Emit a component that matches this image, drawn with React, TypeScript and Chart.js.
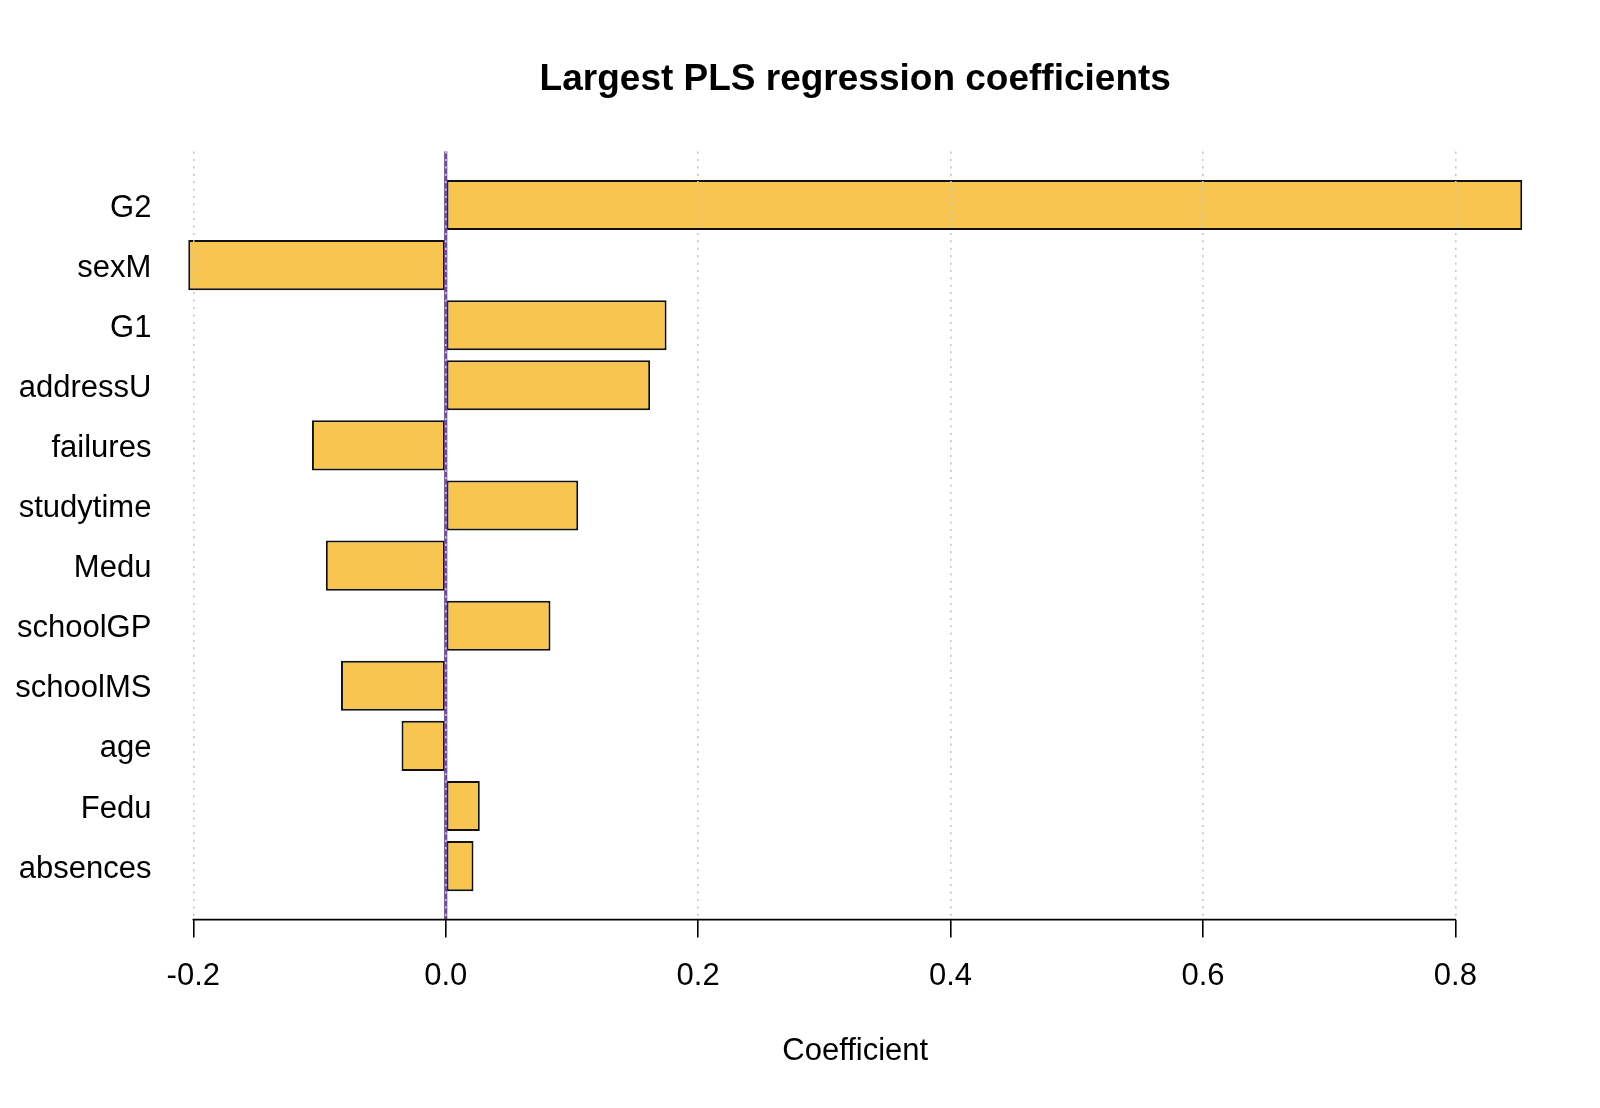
import React, { useEffect, useRef } from 'react';
import { Chart, registerables } from 'chart.js';

Chart.register(...registerables);

const categories = ['G2', 'sexM', 'G1', 'addressU', 'failures', 'studytime', 'Medu', 'schoolGP', 'schoolMS', 'age', 'Fedu', 'absences'];
const coefficients = [0.853, -0.204, 0.175, 0.162, -0.106, 0.105, -0.095, 0.083, -0.083, -0.035, 0.027, 0.022];
const xTicks = [-0.2, 0, 0.2, 0.4, 0.6, 0.8];
const xTickLabels = ['-0.2', '0.0', '0.2', '0.4', '0.6', '0.8'];
const titleText = 'Largest PLS regression coefficients';
const xTitle = 'Coefficient';

const FAMILY = "'Liberation Sans', Arial, Helvetica, sans-serif";

export default function App() {
  const ref = useRef<HTMLCanvasElement>(null);

  useEffect(() => {
    const canvas = ref.current;
    if (!canvas) return;

    const dMin = Math.min(0, ...coefficients);
    const dMax = Math.max(0, ...coefficients);
    const span = dMax - dMin;
    const xMin = dMin - 0.04 * span;
    const xMax = dMax + 0.04 * span;
    const yPad = 0.89;

    const zeroLine = {
      id: 'zeroLine',
      afterDatasetsDraw(chart: any) {
        const { ctx, chartArea } = chart;
        const x0 = chart.scales.x.getPixelForValue(0);
        ctx.save();
        ctx.strokeStyle = '#6E4E92';
        ctx.lineWidth = 3.2;
        ctx.beginPath();
        ctx.moveTo(x0, chartArea.top);
        ctx.lineTo(x0, chartArea.bottom);
        ctx.stroke();
        ctx.restore();
      },
    };

    const axisAndLabels = {
      id: 'axisAndLabels',
      afterDraw(chart: any) {
        const { ctx, chartArea } = chart;
        const xs = chart.scales.x;
        const ys = chart.scales.y;
        const a = xs.getPixelForValue(xTicks[0]);
        const b = xs.getPixelForValue(xTicks[xTicks.length - 1]);
        ctx.save();
        ctx.strokeStyle = '#000';
        ctx.lineWidth = 1.6;
        ctx.beginPath();
        ctx.moveTo(a - 0.8, chartArea.bottom);
        ctx.lineTo(b + 0.8, chartArea.bottom);
        ctx.stroke();

        ctx.fillStyle = '#000';
        ctx.font = `31px ${FAMILY}`;
        ctx.textAlign = 'right';
        ctx.textBaseline = 'middle';
        categories.forEach((name, i) => {
          ctx.fillText(name, chartArea.left + 16.5, ys.getPixelForValue(i) + 3);
        });
        ctx.restore();
      },
    };

    const chart = new Chart(canvas, {
      type: 'bar',
      data: {
        datasets: [
          {
            data: coefficients.map((v, i) => ({ x: v, y: i })),
            backgroundColor: '#F8C650',
            borderColor: '#111111',
            borderWidth: 2,
            borderSkipped: false,
            barPercentage: 1 / 1.2,
            categoryPercentage: 1,
          } as any,
        ],
      },
      options: {
        indexAxis: 'y',
        animation: false,
        responsive: false,
        devicePixelRatio: 1,
        layout: { padding: { left: 0, right: 24.4, top: 0, bottom: 0 } },
        plugins: {
          legend: { display: false },
          tooltip: { enabled: false },
          title: {
            display: true,
            text: titleText,
            fullSize: false,
            color: '#000',
            font: { family: FAMILY, size: 37, weight: 'bold' },
            padding: { top: 57.5, bottom: 49.6 },
          },
        },
        scales: {
          x: {
            type: 'linear',
            position: 'bottom',
            min: xMin,
            max: xMax,
            afterBuildTicks: (s: any) => {
              s.ticks = xTicks.map((v) => ({ value: v }));
            },
            afterFit: (s: any) => {
              s.height = 188.4;
            },
            ticks: {
              autoSkip: false,
              maxRotation: 0,
              padding: 20,
              color: '#000',
              font: { family: FAMILY, size: 31 },
              callback: (v: any) => {
                const i = xTicks.findIndex((t) => Math.abs(t - Number(v)) < 1e-9);
                return i >= 0 ? xTickLabels[i] : '';
              },
            },
            grid: {
              display: true,
              drawOnChartArea: true,
              drawTicks: true,
              tickLength: 18,
              color: '#c8c8c8',
              lineWidth: 1.6,
              tickColor: '#000',
              tickWidth: 1.6,
              z: 1,
            },
            border: { display: false, dash: [2.2, 5.2] },
            title: {
              display: true,
              text: xTitle,
              color: '#000',
              font: { family: FAMILY, size: 31 },
              padding: { top: 38, bottom: 38 },
            },
          } as any,
          y: {
            type: 'linear',
            offset: false,
            min: -yPad,
            max: categories.length - 1 + yPad,
            reverse: true,
            afterBuildTicks: (s: any) => {
              s.ticks = categories.map((_, i) => ({ value: i }));
            },
            afterFit: (s: any) => {
              s.width = 134.9;
            },
            ticks: { display: false },
            grid: { display: false, drawTicks: false, offset: false },
            border: { display: false },
          } as any,
        },
      },
      plugins: [zeroLine, axisAndLabels],
    });

    return () => chart.destroy();
  }, []);

  return (
    <div style={{ position: 'absolute', left: 0, top: 0, width: 1600, height: 1108, background: '#fff' }}>
      <canvas ref={ref} width={1600} height={1108} style={{ width: 1600, height: 1108, display: 'block' }} />
    </div>
  );
}
